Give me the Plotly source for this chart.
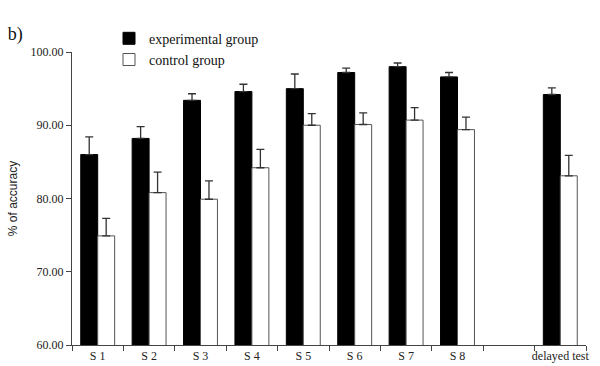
import plotly.graph_objects as go

categories = ["S 1", "S 2", "S 3", "S 4", "S 5", "S 6", "S 7", "S 8", " ", "delayed test"]
experimental = [86.0, 88.2, 93.4, 94.6, 95.0, 97.2, 98.0, 96.6, None, 94.2]
experimental_err = [2.4, 1.6, 0.9, 1.0, 2.0, 0.6, 0.5, 0.6, None, 0.9]
control = [74.9, 80.8, 79.9, 84.2, 90.0, 90.1, 90.7, 89.4, None, 83.1]
control_err = [2.4, 2.8, 2.5, 2.5, 1.6, 1.6, 1.7, 1.7, None, 2.8]
y_ticks = [60, 70, 80, 90, 100]

serif = "Liberation Serif"
sans = "Liberation Sans"

fig = go.Figure()
fig.add_trace(go.Bar(
    name="experimental group", x=categories, y=experimental,
    marker=dict(color="black", line=dict(color="black", width=1)),
    error_y=dict(type="data", array=experimental_err, symmetric=False,
                 arrayminus=[0] * len(categories), color="#333333", thickness=1.3, width=4),
))
fig.add_trace(go.Bar(
    name="control group", x=categories, y=control,
    marker=dict(color="white", line=dict(color="#555555", width=1)),
    error_y=dict(type="data", array=control_err, symmetric=False,
                 arrayminus=[0] * len(categories), color="#333333", thickness=1.3, width=4),
))

fig.update_layout(
    width=600, height=366,
    margin=dict(l=72, r=14, t=52, b=21),
    paper_bgcolor="white", plot_bgcolor="white",
    barmode="group", bargap=0.34, bargroupgap=0,
    font=dict(family=serif, color="#222222", size=12),
    title=dict(text="b)", x=0.013, xanchor="left", y=1 - 34 / 366, yanchor="middle",
               font=dict(family=serif, size=18, color="#111111")),
    legend=dict(x=0.072, y=1.10, xanchor="left", yanchor="top",
                font=dict(family=serif, size=14, color="#111111"),
                bgcolor="rgba(0,0,0,0)", tracegroupgap=0, itemclick=False),
    showlegend=True,
)
fig.update_xaxes(
    type="category", categoryorder="array", categoryarray=categories,
    range=[-0.5, len(categories) - 0.5],
    showline=True, linecolor="#444444", linewidth=1,
    ticks="outside", ticklen=5, tickcolor="#444444", tickson="boundaries",
    tickangle=0, automargin=False,
    showgrid=False, zeroline=False,
    tickfont=dict(family=serif, size=12, color="#222222"),
)
fig.update_yaxes(
    range=[60, 100], tickvals=y_ticks, tickformat=".2f",
    showline=True, linecolor="#444444", linewidth=1,
    ticks="outside", ticklen=5, tickcolor="#444444",
    showgrid=False, zeroline=False, automargin=False,
    tickfont=dict(family=serif, size=12, color="#222222"),
    title=dict(text="% of accuracy", font=dict(family=sans, size=12, color="#222222"), standoff=10),
)

fig.write_html("out.html", config={"displayModeBar": False},
               post_script="document.body.style.margin='0';")
